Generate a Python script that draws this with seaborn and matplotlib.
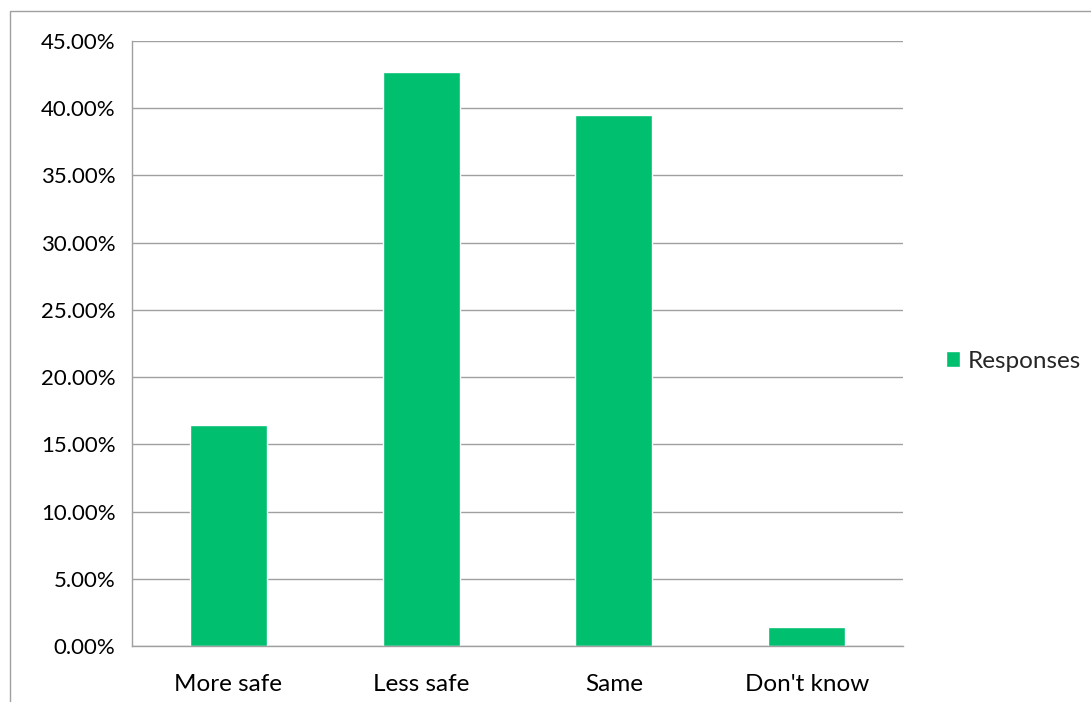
import matplotlib
matplotlib.use("Agg")
import matplotlib.pyplot as plt
import seaborn as sns
import pandas as pd
from matplotlib.ticker import FuncFormatter, MultipleLocator
from matplotlib.patches import Patch, Rectangle

# Data
categories = ["More safe", "Less safe", "Same", "Don't know"]
responses = [16.45, 42.7, 39.5, 1.4]

df = pd.DataFrame({"category": categories, "Responses": responses})

sns.set_style("white")
plt.rcParams["font.family"] = ["Lato", "DejaVu Sans"]

green = "#00BF6F"
grey = "#A0A0A0"

fig = plt.figure(figsize=(10.91, 7.02), dpi=100)
ax = fig.add_axes([132 / 1091, 1 - 646 / 702, (903 - 132) / 1091, (646 - 41) / 702])

sns.barplot(data=df, x="category", y="Responses", color=green, width=0.4,
            saturation=1, ax=ax)

ax.set_ylim(0, 45)
ax.set_xlim(-0.5, 3.5)
ax.yaxis.set_major_locator(MultipleLocator(5))
ax.yaxis.set_major_formatter(FuncFormatter(lambda v, p: f"{v:.2f}%"))
ax.set_xlabel("")
ax.set_ylabel("")

ax.grid(axis="y", color=grey, linewidth=1)
ax.set_axisbelow(True)
for s in ["top", "right"]:
    ax.spines[s].set_visible(False)
for s in ["left", "bottom"]:
    ax.spines[s].set_color(grey)
    ax.spines[s].set_linewidth(1)

ax.tick_params(axis="y", length=8, color=grey, width=1, labelsize=16, pad=4)
ax.tick_params(axis="x", length=0, labelsize=17.5, pad=20)
# category boundary ticks on x axis
ax.set_xticks([-0.5, 0.5, 1.5, 2.5, 3.5], minor=True)
ax.tick_params(axis="x", which="minor", length=8, color=grey, width=1)
for lab in ax.get_yticklabels() + ax.get_xticklabels():
    lab.set_color("#000000")

handles = [Patch(facecolor=green, label="Responses")]
fig.legend(handles=handles, loc="center left", bbox_to_anchor=(924 / 1091, 1 - 361 / 702),
           frameon=False, fontsize=17.5, handlelength=0.6, handleheight=0.6,
           handletextpad=0.3)

# outer chart border (left and top visible)
fig.patches.append(Rectangle((10 / 1091, -0.1), 1.2, 1 - 11 / 702 + 0.1,
                             transform=fig.transFigure, fill=False,
                             edgecolor=grey, linewidth=1))

fig.savefig("out.png", dpi=100)
